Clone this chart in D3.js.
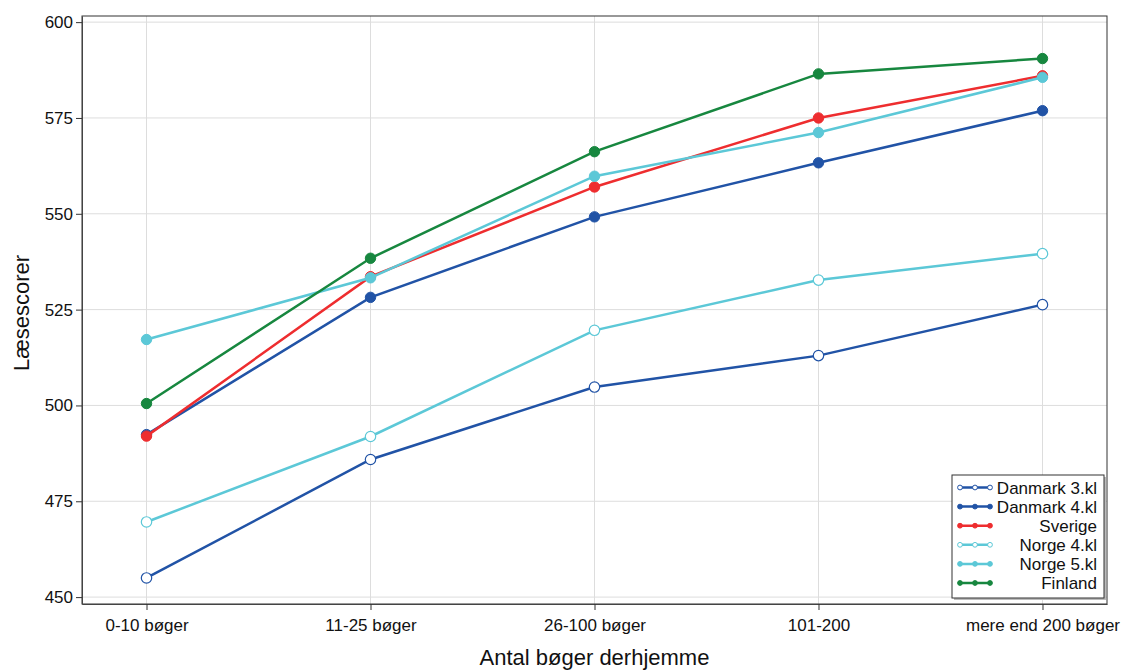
<!DOCTYPE html>
<html>
<head>
<meta charset="utf-8">
<script src="https://cdn.jsdelivr.net/npm/d3@7"></script>
<style>
  body { margin: 0; background: #fff; }
  text { font-family: "Liberation Sans", Arial, sans-serif; fill: #111; }
</style>
</head>
<body>
<svg id="chart" width="1123" height="670"></svg>
<script>
// categories along x
const categories = ["0-10 bøger", "11-25 bøger", "26-100 bøger", "101-200", "mere end 200 bøger"];
const yTicks = [450, 475, 500, 525, 550, 575, 600];

// series values
const danmark3 = [455.0, 485.9, 504.8, 513.0, 526.3];
const danmark4 = [492.4, 528.2, 549.2, 563.3, 576.9];
const sverige  = [492.0, 533.6, 557.0, 575.0, 586.0];
const norge4   = [469.6, 491.9, 519.6, 532.7, 539.6];
const norge5   = [517.2, 533.3, 559.8, 571.2, 585.6];
const finland  = [500.5, 538.4, 566.2, 586.5, 590.5];

const seriesNames = ["Danmark 3.kl", "Danmark 4.kl", "Sverige", "Norge 4.kl", "Norge 5.kl", "Finland"];
const seriesColors = ["#2153a6", "#2153a6", "#ee2d2f", "#5cc8d7", "#5cc8d7", "#17873f"];
const seriesOpen = [true, false, false, true, false, false];
const seriesValues = [danmark3, danmark4, sverige, norge4, norge5, finland];

const svg = d3.select("#chart");
const margin = {left: 82, top: 16, right: 16, bottom: 66};
const W = 1123, H = 670;

const x = d3.scalePoint().domain(categories)
  .range([margin.left, W - margin.right]).padding(0.288);
const y = d3.scaleLinear().domain([448.2, 601.6])
  .range([H - margin.bottom, margin.top]);

// grid
svg.append("g").selectAll("line.h").data(yTicks).enter().append("line")
  .attr("x1", margin.left).attr("x2", W - margin.right)
  .attr("y1", d => y(d)).attr("y2", d => y(d))
  .attr("stroke", "#dddddd").attr("stroke-width", 1);
svg.append("g").selectAll("line.v").data(categories).enter().append("line")
  .attr("x1", d => x(d)).attr("x2", d => x(d))
  .attr("y1", margin.top).attr("y2", H - margin.bottom)
  .attr("stroke", "#dddddd").attr("stroke-width", 1);

// frame
svg.append("rect")
  .attr("x", margin.left).attr("y", margin.top)
  .attr("width", W - margin.right - margin.left)
  .attr("height", H - margin.bottom - margin.top)
  .attr("fill", "none").attr("stroke", "#333").attr("stroke-width", 1);

// y axis with minor ticks
const yAxis = svg.append("g").attr("transform", `translate(${margin.left},0)`);
yAxis.call(d3.axisLeft(y).tickValues(d3.range(450, 601, 2.5)).tickSize(3).tickSizeOuter(0).tickFormat(""));
yAxis.call(d3.axisLeft(y).tickValues(yTicks).tickSize(6).tickSizeOuter(0).tickPadding(3).tickFormat(d3.format("d")));
yAxis.selectAll("path.domain").attr("stroke", "#444");
yAxis.selectAll(".tick line").attr("stroke", "#333");
yAxis.selectAll("text").style("font-size", "17px").attr("fill", "#111");

// x axis
const xAxis = svg.append("g").attr("transform", `translate(0,${H - margin.bottom})`);
xAxis.call(d3.axisBottom(x).tickSize(6).tickSizeOuter(0).tickPadding(9));
xAxis.select("path.domain").attr("stroke", "#444");
xAxis.selectAll(".tick line").attr("stroke", "#333");
xAxis.selectAll("text").style("font-size", "17px").attr("fill", "#111");

// axis titles
svg.append("text").attr("x", x(categories[2])).attr("y", 665)
  .attr("text-anchor", "middle").style("font-size", "22px").text("Antal bøger derhjemme");
svg.append("text").attr("transform", "translate(29,313) rotate(-90)")
  .attr("text-anchor", "middle").style("font-size", "22px").text("Læsescorer");

// lines and markers
const line = d3.line().x((d, i) => x(categories[i])).y(d => y(d));
const order = [0, 3, 1, 2, 4, 5];
order.forEach(k => {
  const g = svg.append("g");
  g.append("path").datum(seriesValues[k]).attr("d", line)
    .attr("fill", "none").attr("stroke", seriesColors[k]).attr("stroke-width", 2.5);
  g.selectAll("circle").data(seriesValues[k]).enter().append("circle")
    .attr("cx", (d, i) => x(categories[i])).attr("cy", d => y(d)).attr("r", 5.2)
    .attr("fill", seriesOpen[k] ? "#fff" : seriesColors[k])
    .attr("stroke", seriesColors[k]).attr("stroke-width", seriesOpen[k] ? 1.2 : 1);
});

// legend
const lg = svg.append("g").attr("transform", "translate(952,475)");
lg.append("rect").attr("x", 2).attr("y", 2).attr("width", 152).attr("height", 123).attr("fill", "#bbb");
lg.append("rect").attr("width", 152).attr("height", 123).attr("fill", "#fff").attr("stroke", "#333");
seriesNames.forEach((name, k) => {
  const ry = 12.5 + k * 19.1;
  lg.append("line").attr("x1", 6).attr("x2", 40).attr("y1", ry).attr("y2", ry)
    .attr("stroke", seriesColors[k]).attr("stroke-width", 2.5);
  [8, 23, 38].forEach(cx => {
    lg.append("circle").attr("cx", cx).attr("cy", ry).attr("r", 2.4)
      .attr("fill", seriesOpen[k] ? "#fff" : seriesColors[k])
      .attr("stroke", seriesColors[k]).attr("stroke-width", 1);
  });
  lg.append("text").attr("x", 145).attr("y", ry + 6).attr("text-anchor", "end")
    .style("font-size", "17px").text(name);
});
</script>
</body>
</html>
